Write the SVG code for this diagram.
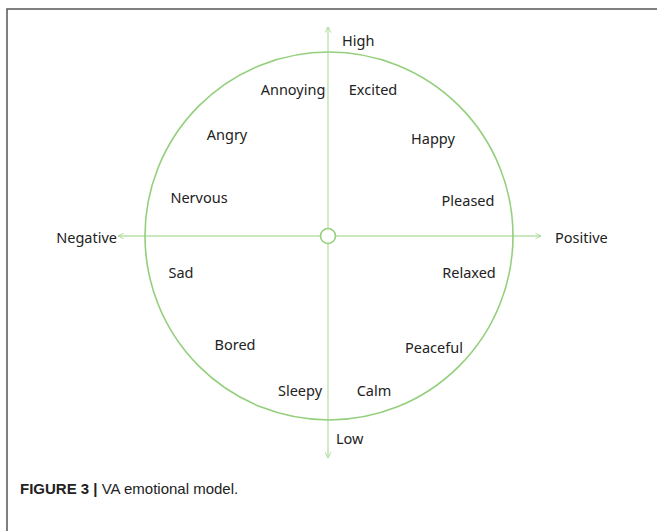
<svg xmlns="http://www.w3.org/2000/svg" width="657" height="531" viewBox="0 0 657 531">
<defs>
<marker id="arr" viewBox="0 0 10 10" refX="9" refY="5" markerWidth="7" markerHeight="7" orient="auto" markerUnits="userSpaceOnUse">
<path d="M1,1 L9,5 L1,9" fill="none" stroke="#a8d896" stroke-width="1.3"/>
</marker>
<style>
.lbl{font-family:"Noto Sans","Open Sans","DejaVu Sans",sans-serif;font-size:14.5px;fill:#222;}
.ax{stroke:#b9e0a8;stroke-width:1.3;fill:none;}
.cap{font-family:"Liberation Sans",Arial,sans-serif;font-size:15px;fill:#222;}
</style>
</defs>
<rect width="657" height="531" fill="#fff"/>
<path d="M7,531 L7,9 L657,9" fill="none" stroke="#555" stroke-width="1.5"/>
<g id="connectors">
<line class="ax" x1="328" y1="228" x2="328" y2="27" marker-end="url(#arr)"/>
<line class="ax" x1="328" y1="244" x2="328" y2="458" marker-end="url(#arr)"/>
<line class="ax" x1="320" y1="236" x2="118" y2="236" marker-end="url(#arr)"/>
<line class="ax" x1="336" y1="236" x2="541" y2="236" marker-end="url(#arr)"/>
</g>
<g id="circle"><circle cx="329" cy="236" r="184" fill="none" stroke="#93cf7c" stroke-width="1.6"/></g>
<g id="origin"><circle cx="328" cy="236" r="7.5" fill="#fff" stroke="#93cf7c" stroke-width="1.6"/></g>
<g id="high"><text class="lbl" x="342" y="46">High</text></g>
<g id="low"><text class="lbl" x="336" y="444">Low</text></g>
<g id="negative"><text class="lbl" x="117" y="243" text-anchor="end">Negative</text></g>
<g id="positive"><text class="lbl" x="555" y="243">Positive</text></g>
<g id="annoying"><text class="lbl" x="293" y="95" text-anchor="middle">Annoying</text></g>
<g id="excited"><text class="lbl" x="373" y="95" text-anchor="middle">Excited</text></g>
<g id="angry"><text class="lbl" x="227" y="140" text-anchor="middle">Angry</text></g>
<g id="happy"><text class="lbl" x="433" y="144" text-anchor="middle">Happy</text></g>
<g id="nervous"><text class="lbl" x="199" y="203" text-anchor="middle">Nervous</text></g>
<g id="pleased"><text class="lbl" x="468" y="206" text-anchor="middle">Pleased</text></g>
<g id="sad"><text class="lbl" x="181" y="278" text-anchor="middle">Sad</text></g>
<g id="relaxed"><text class="lbl" x="469" y="278" text-anchor="middle">Relaxed</text></g>
<g id="bored"><text class="lbl" x="235" y="350" text-anchor="middle">Bored</text></g>
<g id="peaceful"><text class="lbl" x="434" y="353" text-anchor="middle">Peaceful</text></g>
<g id="sleepy"><text class="lbl" x="300" y="396" text-anchor="middle">Sleepy</text></g>
<g id="calm"><text class="lbl" x="374" y="396" text-anchor="middle">Calm</text></g>
<g id="caption"><text class="cap" x="20" y="494"><tspan font-weight="bold">FIGURE 3 |</tspan> VA emotional model.</text></g>
</svg>
